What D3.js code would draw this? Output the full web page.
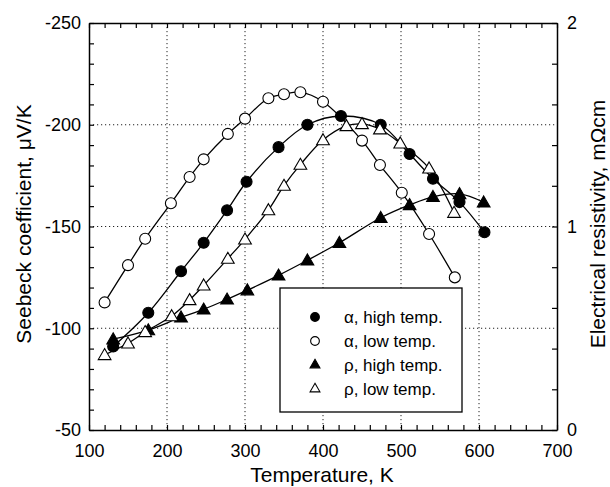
<!DOCTYPE html>
<meta charset="utf-8">
<script src="https://d3js.org/d3.v7.min.js"></script>
<body style="margin:0;background:white">
<div id="chart"></div>
</body>
<script>
// readings taken from the figure
const tempAlphaHigh = [131, 176, 218, 247, 277, 302, 343, 380, 423, 474, 511, 541, 575, 607];
const alphaHigh     = [-91, -107.6, -128, -142, -158, -172, -189, -200, -204.3, -200, -185.6, -173.5, -162, -147.2];

const tempAlphaLow = [120, 150, 172, 205, 229, 247, 278, 300, 330, 350, 371, 400, 450, 473, 501, 536, 569];
const alphaLow     = [-112.7, -131, -144, -161.4, -174.3, -183, -195.5, -203, -213, -215, -216, -211.3, -192.2, -180.2, -166.6, -146.3, -125];

const tempRhoHigh = [131, 176, 218, 247, 277, 303, 343, 380, 421, 474, 511, 541, 575, 606];
const rhoHigh     = [0.446, 0.491, 0.554, 0.593, 0.642, 0.687, 0.76, 0.834, 0.92, 1.043, 1.106, 1.146, 1.16, 1.119];

const tempRhoLow = [120, 150, 172, 206, 229, 247, 278, 300, 330, 350, 371, 400, 430, 450, 473, 499, 536, 568];
const rhoLow     = [0.369, 0.426, 0.482, 0.56, 0.639, 0.711, 0.842, 0.937, 1.081, 1.201, 1.304, 1.425, 1.494, 1.504, 1.478, 1.409, 1.286, 1.068];

const legendLabels = ["\u03b1, high temp.", "\u03b1, low temp.", "\u03c1, high temp.", "\u03c1, low temp."];

const W = 610, H = 487;
const m = {left: 89, right: 53, top: 23, bottom: 57};
const font = "'Liberation Sans', Arial, sans-serif";

const svg = d3.select("#chart").append("svg")
  .attr("width", W).attr("height", H)
  .style("font-family", font);

const x = d3.scaleLinear().domain([100, 700]).range([m.left, W - m.right]);
const yA = d3.scaleLinear().domain([-250, -50]).range([m.top, H - m.bottom]);
const yR = d3.scaleLinear().domain([0, 2]).range([H - m.bottom, m.top]);

const x0 = x.range()[0], x1 = x.range()[1];
const y0 = yA.range()[0], y1 = yA.range()[1];

// dotted grid
const grid = svg.append("g").attr("stroke", "#222").attr("stroke-width", 1).attr("stroke-dasharray", "1.2,2.8");
grid.selectAll(".gx").data([200, 300, 400, 500, 600]).join("line")
  .attr("x1", d => x(d)).attr("x2", d => x(d)).attr("y1", y0).attr("y2", y1);
grid.selectAll(".gy").data([-200, -150, -100]).join("line")
  .attr("y1", d => yA(d)).attr("y2", d => yA(d)).attr("x1", x0).attr("x2", x1);

// axes (ticks pointing inward)
const tickLen = 5;
const bottomAx = svg.append("g").attr("transform", `translate(0,${y1})`)
  .call(d3.axisBottom(x).tickValues(d3.range(100, 701, 20)).tickSizeInner(-tickLen).tickSizeOuter(0).tickFormat(d => d % 100 === 0 ? d : ""));
const topAx = svg.append("g").attr("transform", `translate(0,${y0})`)
  .call(d3.axisTop(x).tickValues(d3.range(100, 701, 20)).tickSizeInner(-tickLen).tickSizeOuter(0).tickFormat(""));
const leftAx = svg.append("g").attr("transform", `translate(${x0},0)`)
  .call(d3.axisLeft(yA).tickValues(d3.range(-250, -49, 10)).tickSizeInner(-tickLen).tickSizeOuter(0).tickFormat(d => d % 50 === 0 ? d : ""));
const rightAx = svg.append("g").attr("transform", `translate(${x1},0)`)
  .call(d3.axisRight(yR).tickValues(d3.range(0, 2.01, 0.2)).tickSizeInner(-tickLen).tickSizeOuter(0)
    .tickFormat(d => Math.abs(d - Math.round(d)) < 1e-6 ? Math.round(d) : ""));

[bottomAx, topAx, leftAx, rightAx].forEach(g => {
  g.selectAll("path").attr("stroke", "#000").attr("stroke-width", 1.5);
  g.selectAll("line").attr("stroke", "#000").attr("stroke-width", 1.2);
  g.selectAll("text").style("font-size", "18px").style("font-family", font).attr("fill", "#000");
});
bottomAx.selectAll("text").attr("y", 27).attr("dy", 0);
leftAx.selectAll("text").attr("x", -8);
rightAx.selectAll("text").attr("x", 10);

// axis titles
svg.append("text").attr("x", (x0 + x1) / 2 - 1).attr("y", 482).attr("text-anchor", "middle")
  .style("font-size", "21px").text("Temperature, K");
svg.append("text").attr("transform", `translate(31,224) rotate(-90)`).attr("text-anchor", "middle")
  .style("font-size", "21px").text("Seebeck coefficient, \u03bcV/K");
svg.append("text").attr("transform", `translate(605,224) rotate(-90)`).attr("text-anchor", "middle")
  .style("font-size", "21px").text("Electrical resistivity, m\u03a9cm");

// series
const series = [
  {t: tempAlphaHigh, v: alphaHigh, y: yA, shape: "circle", fill: "#000"},
  {t: tempAlphaLow, v: alphaLow, y: yA, shape: "circle", fill: "#fff"},
  {t: tempRhoHigh, v: rhoHigh, y: yR, shape: "triangle", fill: "#000"},
  {t: tempRhoLow, v: rhoLow, y: yR, shape: "triangle", fill: "#fff"}
];

const plot = svg.append("g");
series.forEach(s => {
  const pts = s.t.map((t, i) => [x(t), s.y(s.v[i])]);
  plot.append("path").datum(pts)
    .attr("d", d3.line().curve(d3.curveCatmullRom.alpha(0.5)))
    .attr("fill", "none").attr("stroke", "#000").attr("stroke-width", 1.3);
});

function marker(g, shape, fill, size) {
  const sym = shape === "circle" ? d3.symbolCircle : d3.symbolTriangle;
  return g.append("path")
    .attr("d", d3.symbol().type(sym).size(size))
    .attr("fill", fill).attr("stroke", "#000").attr("stroke-width", 1.1);
}

series.forEach(s => {
  s.t.forEach((t, i) => {
    marker(plot, s.shape, s.fill, s.shape === "circle" ? 95 : 70)
      .attr("transform", `translate(${x(t)},${s.y(s.v[i]) + (s.shape === "triangle" ? 1 : 0)})`);
  });
});

// legend
const lg = svg.append("g");
lg.append("rect").attr("x", 280).attr("y", 288).attr("width", 182).attr("height", 124)
  .attr("fill", "#fff").attr("stroke", "#000").attr("stroke-width", 1.3);
legendLabels.forEach((lab, i) => {
  const yy = 317 + i * 24;
  marker(lg, series[i].shape, series[i].fill, series[i].shape === "circle" ? 60 : 42)
    .attr("transform", `translate(315,${yy})`);
  lg.append("text").attr("x", 344).attr("y", yy + 6).style("font-size", "17px").text(lab);
});
</script>
